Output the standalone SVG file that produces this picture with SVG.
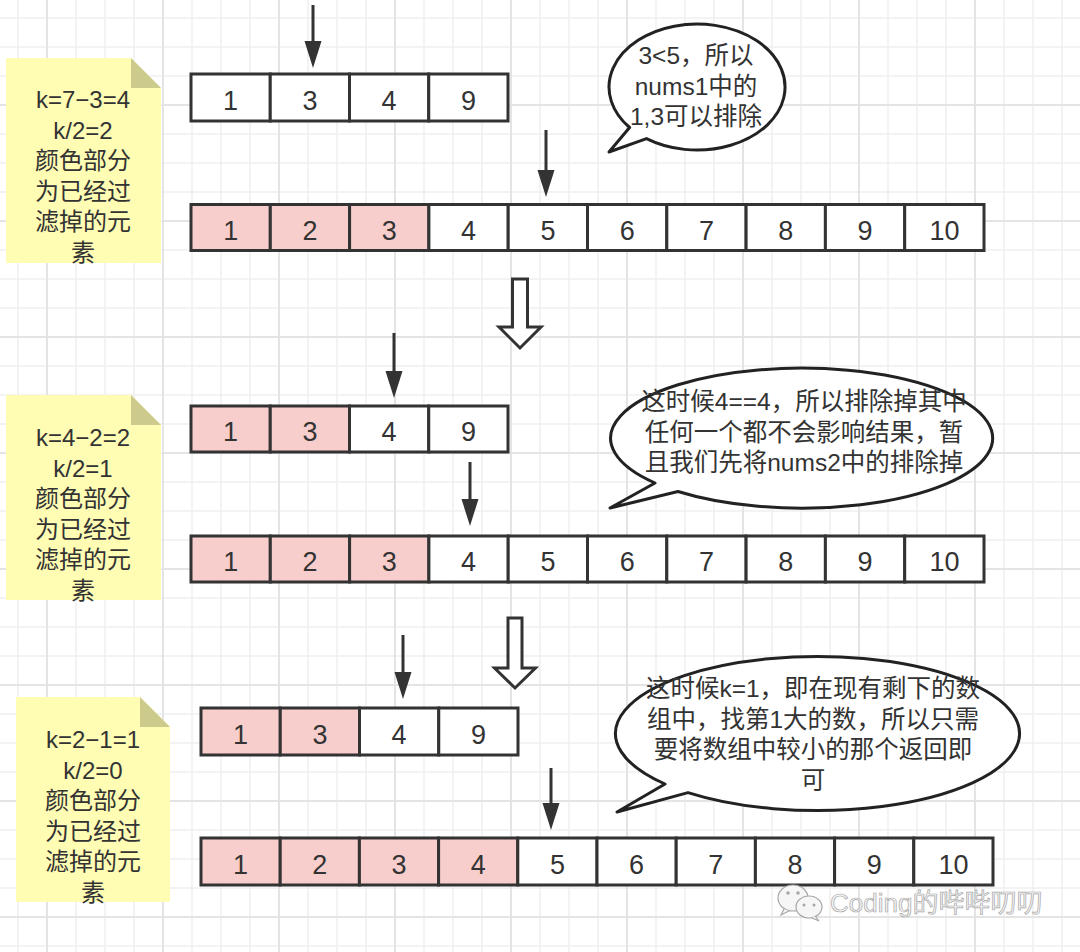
<svg xmlns="http://www.w3.org/2000/svg" width="1080" height="952" viewBox="0 0 1080 952">
<style>
text{font-family:"Liberation Sans","Noto Sans CJK SC",sans-serif;fill:#333;}
.cell{stroke:#333;stroke-width:3;fill:#fff;}
.pink{fill:#f8cecc;}
.num{font-size:27px;text-anchor:middle;}
.note{fill:#fffcb4;}
.fold{fill:#cdcb8c;}
.nt{font-size:24px;text-anchor:middle;}
.bub{fill:#fff;stroke:#222;stroke-width:3;stroke-linejoin:round;}
.bt{font-size:24.5px;text-anchor:middle;}
.arr{stroke:#333;stroke-width:3;fill:none;}
.hollow{fill:#fff;stroke:#333;stroke-width:3;stroke-linejoin:miter;}
.wm{font-size:26px;fill:#f4f4f4;stroke:#a8a8a8;stroke-width:0.7;}
</style>
<defs>
<pattern id="grid" patternUnits="userSpaceOnUse" x="46" y="104" width="116" height="116">
<path d="M30 0V116M59 0V116M88 0V116M0 30H116M0 59H116M0 88H116" stroke="#efefef" stroke-width="1.5"/>
<path d="M1 0V116M0 1H116" stroke="#e4e4e4" stroke-width="2"/>
</pattern>
<marker id="ah" markerUnits="userSpaceOnUse" markerWidth="28" markerHeight="18" viewBox="0 0 28 18" refX="1" refY="9" orient="auto">
<path d="M0,0.5 L27,9 L0,17.5 Z" fill="#333"/>
</marker>
</defs>
<rect width="1080" height="952" fill="#fff"/>
<rect width="1080" height="952" fill="url(#grid)"/>

<g id="connectors">
<path class="arr" d="M313 5V42" marker-end="url(#ah)"/>
<path class="arr" d="M546 130V171" marker-end="url(#ah)"/>
<path class="arr" d="M394 333V372" marker-end="url(#ah)"/>
<path class="arr" d="M470 462V500" marker-end="url(#ah)"/>
<path class="arr" d="M403 635V673" marker-end="url(#ah)"/>
<path class="arr" d="M551 768V804" marker-end="url(#ah)"/>
<path class="hollow" d="M512.5 279H527.5V327H541L520 348L499 327H512.5Z"/>
<path class="hollow" d="M508 618H522V668H535.5L515 688L494.5 668H508Z"/>
</g>

<g id="note1">
<path class="note" d="M6 58H131L161 88V263H6Z"/>
<path class="fold" d="M131 58V88H161Z"/>
<text class="nt" x="83" y="108">k=7−3=4</text>
<text class="nt" x="83" y="139">k/2=2</text>
<text class="nt" x="83" y="169">颜色部分</text>
<text class="nt" x="83" y="200">为已经过</text>
<text class="nt" x="83" y="230">滤掉的元</text>
<text class="nt" x="83" y="261">素</text>
</g>

<g id="note2">
<path class="note" d="M6 395H131L161 425V600H6Z"/>
<path class="fold" d="M131 395V425H161Z"/>
<text class="nt" x="83" y="446">k=4−2=2</text>
<text class="nt" x="83" y="476.5">k/2=1</text>
<text class="nt" x="83" y="507">颜色部分</text>
<text class="nt" x="83" y="537.5">为已经过</text>
<text class="nt" x="83" y="568">滤掉的元</text>
<text class="nt" x="83" y="598.5">素</text>
</g>

<g id="note3">
<path class="note" d="M16 697H140L170 727V902H16Z"/>
<path class="fold" d="M140 697V727H170Z"/>
<text class="nt" x="93" y="748">k=2−1=1</text>
<text class="nt" x="93" y="778.5">k/2=0</text>
<text class="nt" x="93" y="809">颜色部分</text>
<text class="nt" x="93" y="839.5">为已经过</text>
<text class="nt" x="93" y="870">滤掉的元</text>
<text class="nt" x="93" y="900.5">素</text>
</g>

<g id="array1a">
<rect class="cell" x="191" y="74" width="79.25" height="47"/>
<rect class="cell" x="270.25" y="74" width="79.25" height="47"/>
<rect class="cell" x="349.5" y="74" width="79.25" height="47"/>
<rect class="cell" x="428.75" y="74" width="79.25" height="47"/>
<text class="num" x="230.6" y="109.5">1</text>
<text class="num" x="309.9" y="109.5">3</text>
<text class="num" x="389.1" y="109.5">4</text>
<text class="num" x="468.4" y="109.5">9</text>
</g>

<g id="array1b">
<rect class="cell pink" x="191" y="204.5" width="79.3" height="46"/>
<rect class="cell pink" x="270.3" y="204.5" width="79.3" height="46"/>
<rect class="cell pink" x="349.6" y="204.5" width="79.3" height="46"/>
<rect class="cell" x="428.9" y="204.5" width="79.3" height="46"/>
<rect class="cell" x="508.2" y="204.5" width="79.3" height="46"/>
<rect class="cell" x="587.5" y="204.5" width="79.3" height="46"/>
<rect class="cell" x="666.8" y="204.5" width="79.3" height="46"/>
<rect class="cell" x="746.1" y="204.5" width="79.3" height="46"/>
<rect class="cell" x="825.4" y="204.5" width="79.3" height="46"/>
<rect class="cell" x="904.7" y="204.5" width="79.3" height="46"/>
<text class="num" x="230.7" y="239.5">1</text>
<text class="num" x="310" y="239.5">2</text>
<text class="num" x="389.3" y="239.5">3</text>
<text class="num" x="468.6" y="239.5">4</text>
<text class="num" x="547.9" y="239.5">5</text>
<text class="num" x="627.2" y="239.5">6</text>
<text class="num" x="706.5" y="239.5">7</text>
<text class="num" x="785.8" y="239.5">8</text>
<text class="num" x="865.1" y="239.5">9</text>
<text class="num" x="944.4" y="239.5">10</text>
</g>

<g id="array2a">
<rect class="cell pink" x="191" y="406" width="79.25" height="46"/>
<rect class="cell pink" x="270.25" y="406" width="79.25" height="46"/>
<rect class="cell" x="349.5" y="406" width="79.25" height="46"/>
<rect class="cell" x="428.75" y="406" width="79.25" height="46"/>
<text class="num" x="230.6" y="441">1</text>
<text class="num" x="309.9" y="441">3</text>
<text class="num" x="389.1" y="441">4</text>
<text class="num" x="468.4" y="441">9</text>
</g>

<g id="array2b">
<rect class="cell pink" x="191" y="536" width="79.3" height="46"/>
<rect class="cell pink" x="270.3" y="536" width="79.3" height="46"/>
<rect class="cell pink" x="349.6" y="536" width="79.3" height="46"/>
<rect class="cell" x="428.9" y="536" width="79.3" height="46"/>
<rect class="cell" x="508.2" y="536" width="79.3" height="46"/>
<rect class="cell" x="587.5" y="536" width="79.3" height="46"/>
<rect class="cell" x="666.8" y="536" width="79.3" height="46"/>
<rect class="cell" x="746.1" y="536" width="79.3" height="46"/>
<rect class="cell" x="825.4" y="536" width="79.3" height="46"/>
<rect class="cell" x="904.7" y="536" width="79.3" height="46"/>
<text class="num" x="230.7" y="571">1</text>
<text class="num" x="310" y="571">2</text>
<text class="num" x="389.3" y="571">3</text>
<text class="num" x="468.6" y="571">4</text>
<text class="num" x="547.9" y="571">5</text>
<text class="num" x="627.2" y="571">6</text>
<text class="num" x="706.5" y="571">7</text>
<text class="num" x="785.8" y="571">8</text>
<text class="num" x="865.1" y="571">9</text>
<text class="num" x="944.4" y="571">10</text>
</g>

<g id="array3a">
<rect class="cell pink" x="201" y="708" width="79.25" height="47"/>
<rect class="cell pink" x="280.25" y="708" width="79.25" height="47"/>
<rect class="cell" x="359.5" y="708" width="79.25" height="47"/>
<rect class="cell" x="438.75" y="708" width="79.25" height="47"/>
<text class="num" x="240.6" y="743.5">1</text>
<text class="num" x="319.9" y="743.5">3</text>
<text class="num" x="399.1" y="743.5">4</text>
<text class="num" x="478.4" y="743.5">9</text>
</g>

<g id="array3b">
<rect class="cell pink" x="201" y="838" width="79.2" height="47"/>
<rect class="cell pink" x="280.2" y="838" width="79.2" height="47"/>
<rect class="cell pink" x="359.4" y="838" width="79.2" height="47"/>
<rect class="cell pink" x="438.6" y="838" width="79.2" height="47"/>
<rect class="cell" x="517.8" y="838" width="79.2" height="47"/>
<rect class="cell" x="597" y="838" width="79.2" height="47"/>
<rect class="cell" x="676.2" y="838" width="79.2" height="47"/>
<rect class="cell" x="755.4" y="838" width="79.2" height="47"/>
<rect class="cell" x="834.6" y="838" width="79.2" height="47"/>
<rect class="cell" x="913.8" y="838" width="79.2" height="47"/>
<text class="num" x="240.6" y="873.5">1</text>
<text class="num" x="319.8" y="873.5">2</text>
<text class="num" x="399" y="873.5">3</text>
<text class="num" x="478.2" y="873.5">4</text>
<text class="num" x="557.4" y="873.5">5</text>
<text class="num" x="636.6" y="873.5">6</text>
<text class="num" x="715.8" y="873.5">7</text>
<text class="num" x="795" y="873.5">8</text>
<text class="num" x="874.2" y="873.5">9</text>
<text class="num" x="953.4" y="873.5">10</text>
</g>

<g id="bubble1">
<path class="bub" d="M629.6 127.5A88 63 0 1 1 646.5 138.6L609 152Z"/>
<text class="bt" x="696" y="64">3&lt;5，所以</text>
<text class="bt" x="696" y="94.5">nums1中的</text>
<text class="bt" x="696" y="125">1,3可以排除</text>
</g>

<g id="bubble2">
<path class="bub" d="M655 483A191 70 0 1 1 678 491.5L610 508Z"/>
<text class="bt" x="804" y="410">这时候4==4，所以排除掉其中</text>
<text class="bt" x="804" y="440.5">任何一个都不会影响结果，暂</text>
<text class="bt" x="804" y="471">且我们先将nums2中的排除掉</text>
</g>

<g id="bubble3">
<path class="bub" d="M665 784A202 77 0 1 1 688 792.6L617 812Z"/>
<text class="bt" x="813" y="697">这时候k=1，即在现有剩下的数</text>
<text class="bt" x="813" y="727.5">组中，找第1大的数，所以只需</text>
<text class="bt" x="813" y="758">要将数组中较小的那个返回即</text>
<text class="bt" x="813" y="788.5">可</text>
</g>

<g id="watermark">
<ellipse cx="793" cy="898" rx="15" ry="13" fill="#f6f6f6" stroke="#a8a8a8" stroke-width="1.2"/>
<path d="M784 909L781 915L789 911" fill="#f6f6f6" stroke="#a8a8a8" stroke-width="1.2"/>
<ellipse cx="809" cy="907" rx="13" ry="11" fill="#f6f6f6" stroke="#a8a8a8" stroke-width="1.2"/>
<path d="M815 916L819 921L812 918" fill="#f6f6f6" stroke="#a8a8a8" stroke-width="1.2"/>
<circle cx="788" cy="893" r="1.8" fill="#a8a8a8"/>
<circle cx="798" cy="893" r="1.8" fill="#a8a8a8"/>
<circle cx="804" cy="905" r="1.5" fill="#a8a8a8"/>
<circle cx="814" cy="905" r="1.5" fill="#a8a8a8"/>
<text class="wm" x="830" y="912">Coding的哔哔叨叨</text>
</g>
</svg>
